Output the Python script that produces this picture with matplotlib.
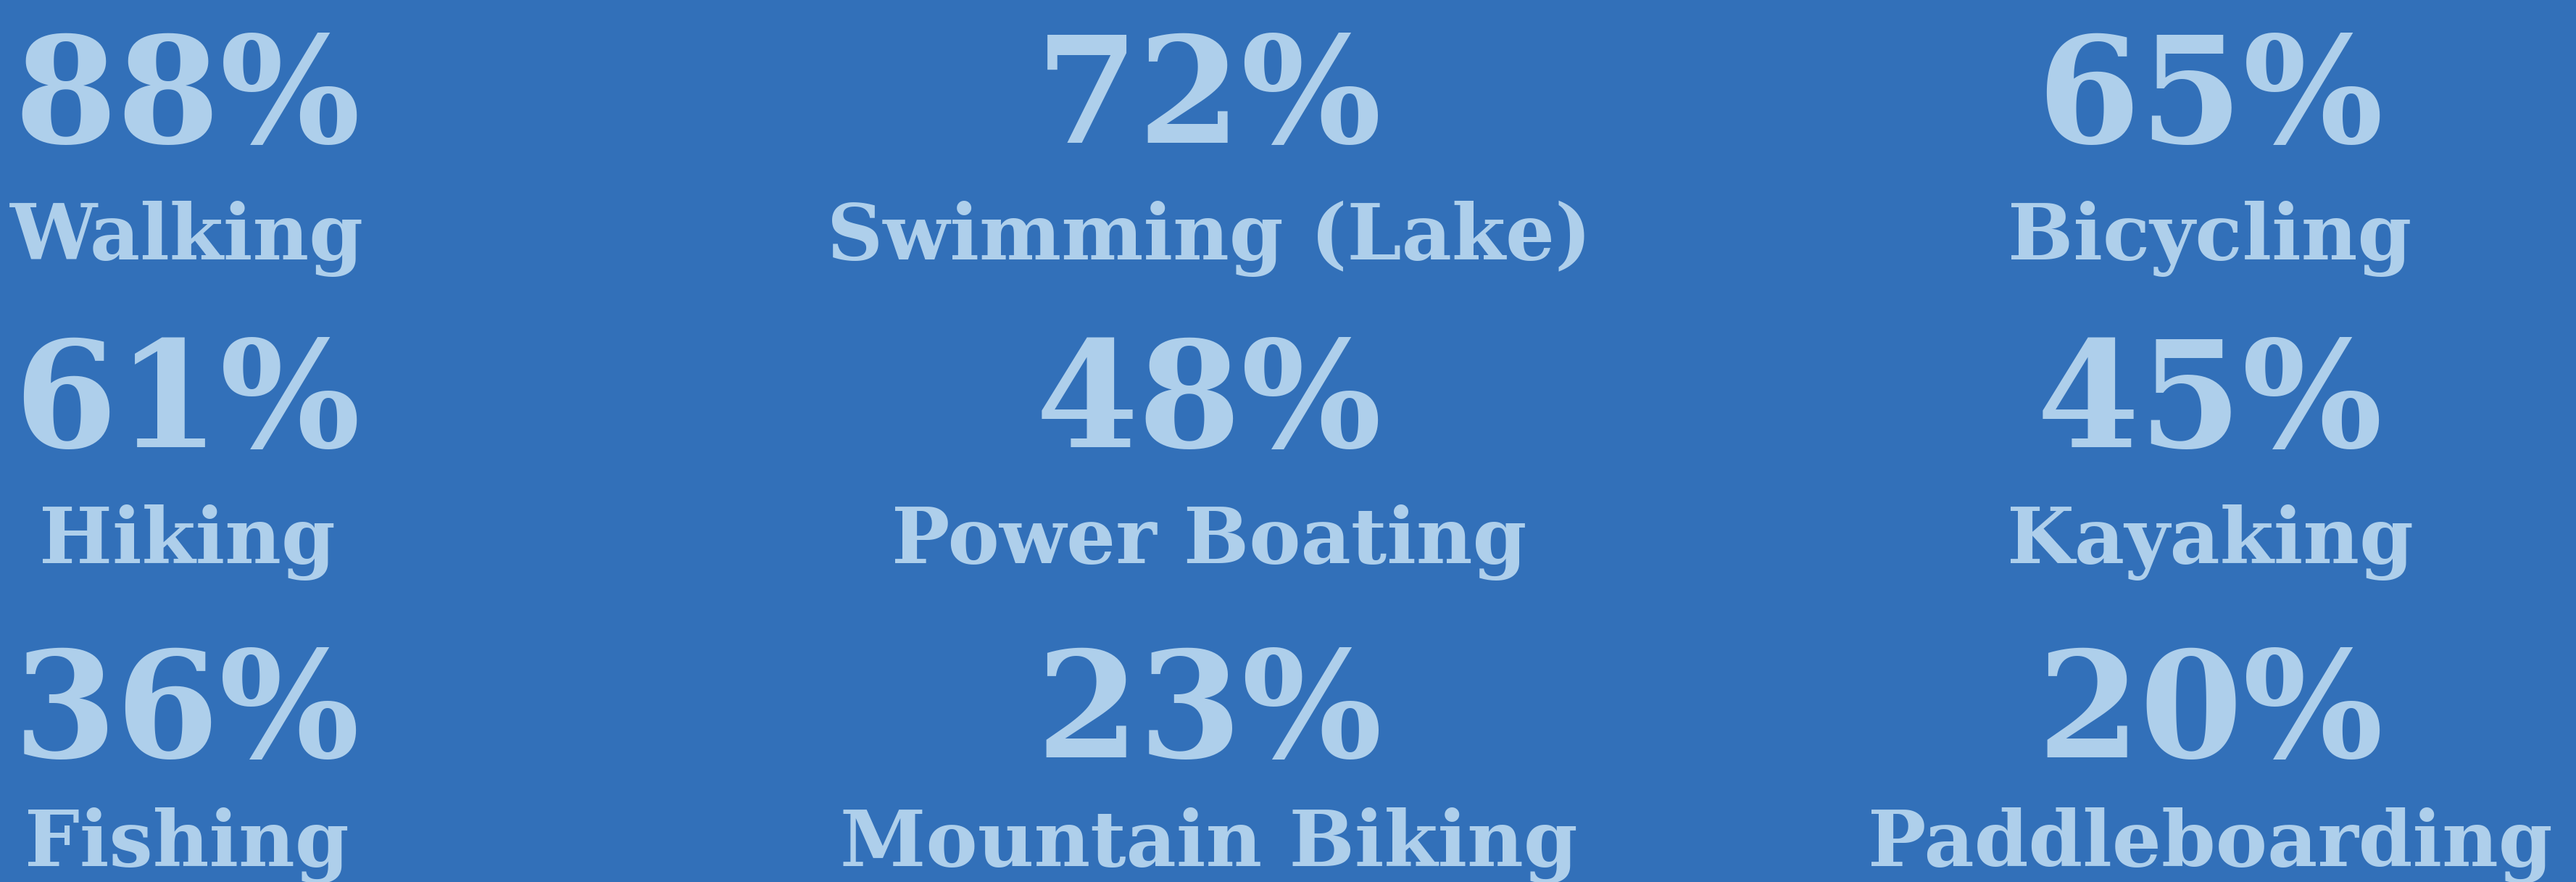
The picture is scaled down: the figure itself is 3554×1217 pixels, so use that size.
#!/usr/bin/env python3

import matplotlib
matplotlib.use('Agg')
import matplotlib.pyplot as plt

# share of visitors doing each activity (3 x 3 grid, row by row)
activities = ['Walking', 'Swimming (Lake)', 'Bicycling',
              'Hiking', 'Power Boating', 'Kayaking',
              'Fishing', 'Mountain Biking', 'Paddleboarding']
shares = [88, 72, 65,
          61, 48, 45,
          36, 23, 20]

bg_color = '#3270b9'
txt_color = '#aecfeb'

W, H = 3554, 1217
dpi = 100

# layout in pixels
col_x = [258, 1668, 3049]
pct_base = [197, 617, 1045]
lab_base = [358, 777, 1195]

fig = plt.figure(figsize=(W / dpi, H / dpi), dpi=dpi, facecolor=bg_color)
ax = fig.add_axes([0, 0, 1, 1])
ax.set_facecolor(bg_color)
ax.set_xlim(0, W)
ax.set_ylim(H, 0)
ax.axis('off')

for i, (name, val) in enumerate(zip(activities, shares)):
    r, c = divmod(i, 3)
    ax.text(col_x[c], pct_base[r], f'{val}%', ha='center', va='baseline',
            fontsize=147, fontweight='bold', family='DejaVu Serif', color=txt_color)
    ax.text(col_x[c], lab_base[r], name, ha='center', va='baseline',
            fontsize=77, fontweight='bold', family='DejaVu Serif', color=txt_color)

fig.savefig('out.png', dpi=dpi, facecolor=bg_color)
